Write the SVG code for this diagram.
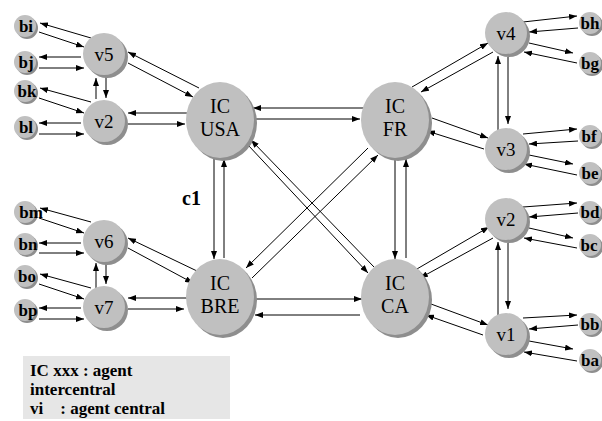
<svg xmlns="http://www.w3.org/2000/svg" width="602" height="421" viewBox="0 0 602 421">
  <style>
    .bg { fill: #ffffff; }
    .conn line { stroke: #000; stroke-width: 1; marker-end: url(#arrow); }
    .face { fill: #c0c0c0; }
    .shade { fill: #8e8e8e; }
    .big { font-family: "Liberation Serif", "Times New Roman", serif; font-size: 20px; text-anchor: middle; fill: #000; }
    .mid { font-family: "Liberation Serif", "Times New Roman", serif; font-size: 19px; text-anchor: middle; fill: #000; }
    .leaf { font-family: "Liberation Serif", "Times New Roman", serif; font-size: 17px; font-weight: bold; text-anchor: middle; fill: #000; }
    .legend { font-family: "Liberation Serif", "Times New Roman", serif; font-size: 17px; font-weight: bold; fill: #000; white-space: pre; }
  </style>
  <defs>
    <marker id="arrow" markerUnits="userSpaceOnUse" markerWidth="8" markerHeight="6" refX="8" refY="3" orient="auto">
      <path d="M0,0 L8,3 L0,6 z" fill="#000"/>
    </marker>
  </defs>
  <rect class="bg" x="0" y="0" width="602" height="421"/>

  <g id="connectors" class="conn">
    <!-- left upper cluster -->
    <line x1="91" y1="38" x2="40" y2="23"/>
    <line x1="39" y1="32" x2="84" y2="47"/>
    <line x1="81" y1="57" x2="39" y2="57"/>
    <line x1="39" y1="68" x2="84" y2="68"/>
    <line x1="96" y1="99" x2="96" y2="78"/>
    <line x1="106" y1="77" x2="106" y2="98"/>
    <line x1="91" y1="102" x2="40" y2="88"/>
    <line x1="39" y1="98" x2="84" y2="113"/>
    <line x1="81" y1="123" x2="39" y2="123"/>
    <line x1="39" y1="134" x2="84" y2="134"/>
    <line x1="128" y1="63" x2="193" y2="97"/>
    <line x1="199" y1="88" x2="128" y2="52"/>
    <line x1="188" y1="113" x2="128" y2="113"/>
    <line x1="128" y1="124" x2="185" y2="124"/>
    <!-- intercentral links -->
    <line x1="365" y1="108" x2="253" y2="108"/>
    <line x1="255" y1="119" x2="360" y2="119"/>
    <line x1="214" y1="158" x2="214" y2="259"/>
    <line x1="224" y1="258" x2="224" y2="159"/>
    <line x1="395" y1="158" x2="395" y2="259"/>
    <line x1="406" y1="258" x2="406" y2="159"/>
    <line x1="248" y1="145" x2="368" y2="273"/>
    <line x1="374" y1="267" x2="251" y2="140"/>
    <line x1="368" y1="148" x2="246" y2="268"/>
    <line x1="252" y1="278" x2="378" y2="155"/>
    <line x1="256" y1="299" x2="362" y2="299"/>
    <line x1="360" y1="315" x2="255" y2="315"/>
    <!-- right upper cluster -->
    <line x1="412" y1="87" x2="488" y2="43"/>
    <line x1="493" y1="52" x2="421" y2="92"/>
    <line x1="432" y1="118" x2="488" y2="138"/>
    <line x1="484" y1="149" x2="427" y2="131"/>
    <line x1="498" y1="133" x2="498" y2="56"/>
    <line x1="508" y1="57" x2="508" y2="124"/>
    <line x1="523" y1="22" x2="577" y2="16"/>
    <line x1="578" y1="28" x2="529" y2="32"/>
    <line x1="529" y1="43" x2="573" y2="53"/>
    <line x1="577" y1="63" x2="524" y2="52"/>
    <line x1="523" y1="134" x2="577" y2="129"/>
    <line x1="578" y1="141" x2="529" y2="144"/>
    <line x1="529" y1="155" x2="573" y2="164"/>
    <line x1="577" y1="175" x2="524" y2="164"/>
    <!-- right lower cluster -->
    <line x1="410" y1="273" x2="489" y2="227"/>
    <line x1="493" y1="238" x2="420" y2="278"/>
    <line x1="431" y1="304" x2="488" y2="325"/>
    <line x1="483" y1="335" x2="426" y2="315"/>
    <line x1="498" y1="319" x2="498" y2="242"/>
    <line x1="508" y1="243" x2="508" y2="309"/>
    <line x1="523" y1="207" x2="577" y2="203"/>
    <line x1="578" y1="213" x2="529" y2="217"/>
    <line x1="529" y1="228" x2="573" y2="238"/>
    <line x1="577" y1="248" x2="524" y2="238"/>
    <line x1="523" y1="318" x2="577" y2="315"/>
    <line x1="578" y1="325" x2="529" y2="329"/>
    <line x1="529" y1="341" x2="573" y2="349"/>
    <line x1="577" y1="361" x2="524" y2="352"/>
    <!-- left lower cluster -->
    <line x1="91" y1="222" x2="40" y2="208"/>
    <line x1="39" y1="218" x2="84" y2="233"/>
    <line x1="81" y1="243" x2="39" y2="243"/>
    <line x1="39" y1="253" x2="84" y2="253"/>
    <line x1="96" y1="288" x2="96" y2="263"/>
    <line x1="106" y1="264" x2="106" y2="284"/>
    <line x1="91" y1="288" x2="40" y2="274"/>
    <line x1="39" y1="284" x2="84" y2="299"/>
    <line x1="81" y1="308" x2="39" y2="308"/>
    <line x1="39" y1="319" x2="84" y2="319"/>
    <line x1="128" y1="248" x2="193" y2="283"/>
    <line x1="197" y1="271" x2="128" y2="238"/>
    <line x1="187" y1="298" x2="128" y2="298"/>
    <line x1="128" y1="309" x2="184" y2="309"/>
  </g>

  <!-- intercentral agents -->
  <g id="ic-usa">
    <ellipse class="shade" cx="223" cy="123" rx="34" ry="38"/>
    <ellipse class="face" cx="220" cy="120" rx="34" ry="38"/>
    <text class="big" x="220" y="113">IC</text>
    <text class="big" x="220" y="136">USA</text>
  </g>
  <g id="ic-fr">
    <ellipse class="shade" cx="398" cy="123" rx="34" ry="38"/>
    <ellipse class="face" cx="395" cy="120" rx="34" ry="38"/>
    <text class="big" x="395" y="113">IC</text>
    <text class="big" x="395" y="136">FR</text>
  </g>
  <g id="ic-bre">
    <ellipse class="shade" cx="223" cy="300" rx="34" ry="38"/>
    <ellipse class="face" cx="220" cy="297" rx="34" ry="38"/>
    <text class="big" x="220" y="290">IC</text>
    <text class="big" x="220" y="313">BRE</text>
  </g>
  <g id="ic-ca">
    <ellipse class="shade" cx="398" cy="300" rx="34" ry="38"/>
    <ellipse class="face" cx="395" cy="297" rx="34" ry="38"/>
    <text class="big" x="395" y="290">IC</text>
    <text class="big" x="395" y="313">CA</text>
  </g>

  <!-- central agents -->
  <g id="v5">
    <circle class="shade" cx="107" cy="57" r="21"/>
    <circle class="face" cx="104" cy="54" r="21"/>
    <text class="mid" x="104" y="61">v5</text>
  </g>
  <g id="v2-left">
    <circle class="shade" cx="107" cy="124" r="21"/>
    <circle class="face" cx="104" cy="121" r="21"/>
    <text class="mid" x="104" y="128">v2</text>
  </g>
  <g id="v6">
    <circle class="shade" cx="107" cy="244" r="21"/>
    <circle class="face" cx="104" cy="241" r="21"/>
    <text class="mid" x="104" y="248">v6</text>
  </g>
  <g id="v7">
    <circle class="shade" cx="107" cy="310" r="21"/>
    <circle class="face" cx="104" cy="307" r="21"/>
    <text class="mid" x="104" y="314">v7</text>
  </g>
  <g id="v4">
    <circle class="shade" cx="509" cy="36" r="21"/>
    <circle class="face" cx="506" cy="33" r="21"/>
    <text class="mid" x="506" y="40">v4</text>
  </g>
  <g id="v3">
    <circle class="shade" cx="509" cy="152" r="21"/>
    <circle class="face" cx="506" cy="149" r="21"/>
    <text class="mid" x="506" y="156">v3</text>
  </g>
  <g id="v2-right">
    <circle class="shade" cx="509" cy="222" r="21"/>
    <circle class="face" cx="506" cy="219" r="21"/>
    <text class="mid" x="506" y="226">v2</text>
  </g>
  <g id="v1">
    <circle class="shade" cx="509" cy="337" r="21"/>
    <circle class="face" cx="506" cy="334" r="21"/>
    <text class="mid" x="506" y="341">v1</text>
  </g>

  <!-- leaf agents, left -->
  <g id="bi"><circle class="shade" cx="27" cy="28" r="11"/><circle class="face" cx="25" cy="26" r="11"/><text class="leaf" x="26" y="32">bi</text></g>
  <g id="bj"><circle class="shade" cx="27" cy="64" r="11"/><circle class="face" cx="25" cy="62" r="11"/><text class="leaf" x="26" y="68">bj</text></g>
  <g id="bk"><circle class="shade" cx="27" cy="93" r="11"/><circle class="face" cx="25" cy="91" r="11"/><text class="leaf" x="27" y="97">bk</text></g>
  <g id="bl"><circle class="shade" cx="27" cy="129" r="11"/><circle class="face" cx="25" cy="127" r="11"/><text class="leaf" x="26" y="133">bl</text></g>
  <g id="bm"><circle class="shade" cx="27" cy="214" r="11"/><circle class="face" cx="25" cy="212" r="11"/><text class="leaf" x="31" y="218">bm</text></g>
  <g id="bn"><circle class="shade" cx="27" cy="246" r="11"/><circle class="face" cx="25" cy="244" r="11"/><text class="leaf" x="28" y="250">bn</text></g>
  <g id="bo"><circle class="shade" cx="27" cy="278" r="11"/><circle class="face" cx="25" cy="276" r="11"/><text class="leaf" x="27" y="282">bo</text></g>
  <g id="bp"><circle class="shade" cx="27" cy="312" r="11"/><circle class="face" cx="25" cy="310" r="11"/><text class="leaf" x="28" y="316">bp</text></g>

  <!-- leaf agents, right -->
  <g id="bh"><circle class="shade" cx="592" cy="25" r="11"/><circle class="face" cx="590" cy="23" r="11"/><text class="leaf" x="590" y="29">bh</text></g>
  <g id="bg"><circle class="shade" cx="592" cy="65" r="11"/><circle class="face" cx="590" cy="63" r="11"/><text class="leaf" x="590" y="69">bg</text></g>
  <g id="bf"><circle class="shade" cx="592" cy="138" r="11"/><circle class="face" cx="590" cy="136" r="11"/><text class="leaf" x="589" y="142">bf</text></g>
  <g id="be"><circle class="shade" cx="592" cy="175" r="11"/><circle class="face" cx="590" cy="173" r="11"/><text class="leaf" x="590" y="179">be</text></g>
  <g id="bd"><circle class="shade" cx="592" cy="214" r="11"/><circle class="face" cx="590" cy="212" r="11"/><text class="leaf" x="590" y="218">bd</text></g>
  <g id="bc"><circle class="shade" cx="592" cy="247" r="11"/><circle class="face" cx="590" cy="245" r="11"/><text class="leaf" x="589" y="251">bc</text></g>
  <g id="bb"><circle class="shade" cx="592" cy="326" r="11"/><circle class="face" cx="590" cy="324" r="11"/><text class="leaf" x="590" y="330">bb</text></g>
  <g id="ba"><circle class="shade" cx="592" cy="362" r="11"/><circle class="face" cx="590" cy="360" r="11"/><text class="leaf" x="590" y="366">ba</text></g>

  <!-- link label -->
  <text id="c1" x="182" y="205" font-family="Liberation Serif, Times New Roman, serif" font-size="20" font-weight="bold">c1</text>

  <!-- legend -->
  <g id="legend">
    <rect x="23" y="356" width="207" height="63" fill="#e6e6e6"/>
    <text class="legend" x="30" y="376">IC xxx : agent</text>
    <text class="legend" x="30" y="395">intercentral</text>
    <text class="legend" x="30" y="414">vi    : agent central</text>
  </g>
</svg>
